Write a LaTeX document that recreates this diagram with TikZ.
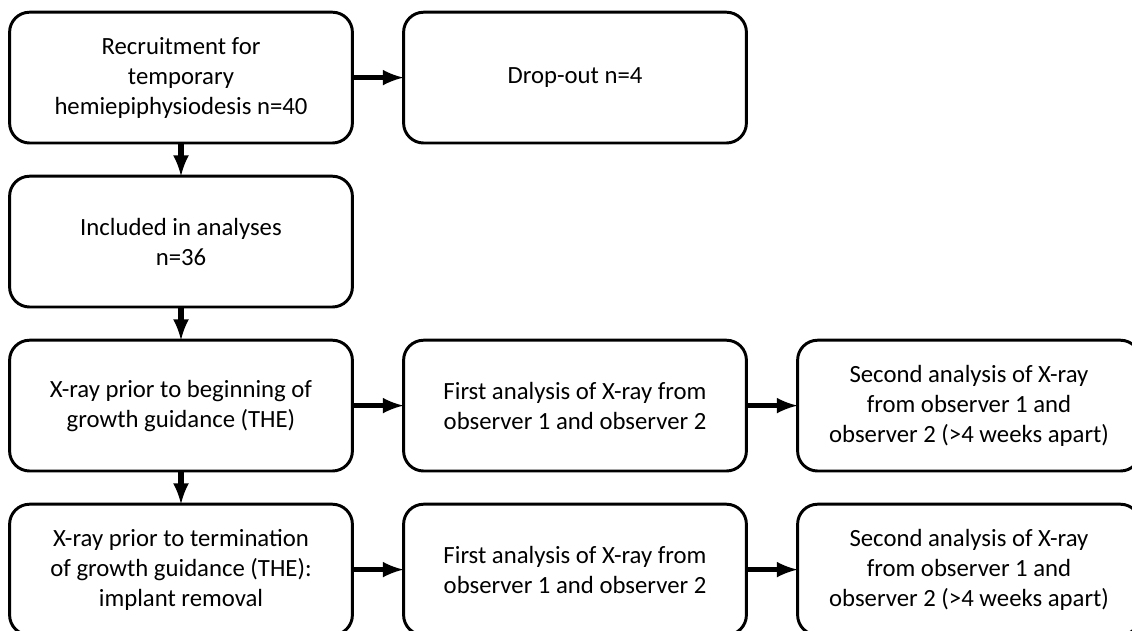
\documentclass[tikz,border=0pt]{standalone}
\usepackage{fontspec}
\setmainfont{Carlito}
\usepackage{tikz}
\usepackage{tkz-graph}
\usetikzlibrary{arrows}

\begin{document}
\begin{tikzpicture}
\useasboundingbox (0,0) rectangle (28.3,-15.75);
\GraphInit[vstyle=Normal]
\SetVertexNormal[Shape = rectangle, LineWidth = 2.1pt]
\tikzset{VertexStyle/.append style={fill=white, rounded corners=0.5cm, minimum width=8.57cm, minimum height=3.27cm, inner sep=0pt, align=center, font=\fontsize{17.6}{21.4}\selectfont}}
\tikzset{EdgeStyle/.style={-latex, line width=4pt}}
\Vertex[x=4.525, y=-1.94, L={Recruitment for\\temporary\\hemiepiphysiodesis n=40}]{rec}
\Vertex[x=14.375, y=-1.94, L={Drop-out n=4}]{drop}
\Vertex[x=4.525, y=-6.04, L={Included in analyses\\n=36}]{incl}
\Vertex[x=4.525, y=-10.14, L={X-ray prior to beginning of\\growth guidance (THE)}]{xbeg}
\Vertex[x=4.525, y=-14.24, L={X-ray prior to termination\\of growth guidance (THE):\\implant removal}]{xend}
\Vertex[x=14.375, y=-10.14, L={First analysis of X-ray from\\observer 1 and observer 2}]{firstbeg}
\Vertex[x=24.225, y=-10.14, L={Second analysis of X-ray\\from observer 1 and\\observer 2 (>4 weeks apart)}, style={minimum width=8.4cm}]{secbeg}
\Vertex[x=14.375, y=-14.24, L={First analysis of X-ray from\\observer 1 and observer 2}]{firstend}
\Vertex[x=24.225, y=-14.24, L={Second analysis of X-ray\\from observer 1 and\\observer 2 (>4 weeks apart)}, style={minimum width=8.4cm}]{secend}
\Edge(rec)(drop)
\Edge(rec)(incl)
\Edge(incl)(xbeg)
\Edge(xbeg)(xend)
\Edge(xbeg)(firstbeg)
\Edge(firstbeg)(secbeg)
\Edge(xend)(firstend)
\Edge(firstend)(secend)
\end{tikzpicture}
\end{document}
